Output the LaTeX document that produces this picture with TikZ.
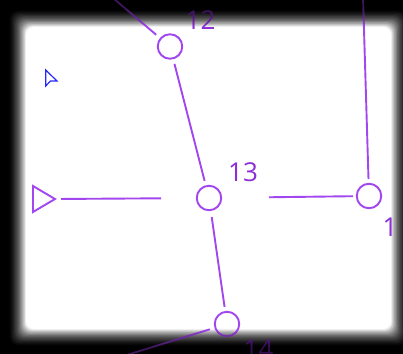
\documentclass[tikz,border=0pt]{standalone}
\usepackage{fontspec}
\setmainfont{Open Sans}
\definecolor{lin}{RGB}{162,70,240}
\definecolor{lab}{RGB}{140,45,215}
\definecolor{cur}{RGB}{40,40,250}
\begin{document}
\begin{tikzpicture}[x=1pt,y=-1pt,
  vnode/.style={circle,draw=lin,line width=1.9pt,minimum size=24.5pt,inner sep=0pt},
  conn/.style={draw=lin,line width=1.9pt},
  lbl/.style={text=lab,inner sep=0pt,font=\fontsize{26}{26}\selectfont}]
\useasboundingbox (0,0) rectangle (403,353);
\clip (0,0) rectangle (403,353);
% dark surround and blurred white card
\fill[black] (-10,-10) rectangle (413,363);
\foreach \i in {0,...,15}{
  \pgfmathsetmacro\xa{17-9+\i*1.2}
  \pgfmathsetmacro\ya{18-9+\i*1.2}
  \pgfmathsetmacro\xb{400+9-\i*1.2}
  \pgfmathsetmacro\yb{338+9-\i*1.2}
  \pgfmathtruncatemacro\p{\i*100/15}
  \fill[white!\p!black, rounded corners=8pt] (\xa,\ya) rectangle (\xb,\yb);
}
% cursor
\draw[cur, line width=1.2pt, line join=miter] (45.7,70) -- (57,81) -- (50.5,81) -- (45.7,86) -- cycle;
% nodes
\node[vnode] (n12) at (170,46.5) {};
\node[vnode] (n13) at (209,198) {};
\node[vnode] (n1)  at (369,196) {};
\node[vnode] (n14) at (227,324) {};
\node[lbl] (t12) at (200.5,20.5) {12};
\node[lbl] (t13) at (243,172.5) {13};
\node[lbl] (t1)  at (390,227) {1};
\node[lbl] (t14) at (258.5,349.5) {14};
% input triangle
\draw[lin, line width=1.9pt, line join=miter] (33,186) -- (55,199) -- (33,212) -- cycle;
\coordinate (tri) at (55,199);
\coordinate (far14) at (60,375.6);
\coordinate (far12) at (80,-30);
\coordinate (far1) at (362.8,-10);
% connectors
\draw[conn, shorten <=6pt, shorten >=34.8pt] (tri) -- (n13);
\draw[conn, shorten <=46.8pt, shorten >=2.8pt] (n13) -- (n1);
\draw[conn, shorten <=4.7pt, shorten >=4.5pt] (n12) -- (n13);
\draw[conn, shorten <=6pt, shorten >=4pt] (n13) -- (n14);
\draw[conn, shorten <=4.8pt] (n14) -- (far14);
\draw[conn, shorten <=4.9pt] (n12) -- (far12);
\draw[conn, shorten <=3.8pt] (n1) -- (far1);
% vignette overlay
\foreach \i in {0,...,11}{
  \pgfmathsetmacro\xa{17-9+\i*1.5}
  \pgfmathsetmacro\ya{18-9+\i*1.5}
  \pgfmathsetmacro\xb{400+9-\i*1.5}
  \pgfmathsetmacro\yb{338+9-\i*1.5}
  \fill[black, fill opacity=0.08, even odd rule, rounded corners=8pt] (-20,-20) rectangle (423,373) (\xa,\ya) rectangle (\xb,\yb);
}
\end{tikzpicture}
\end{document}
